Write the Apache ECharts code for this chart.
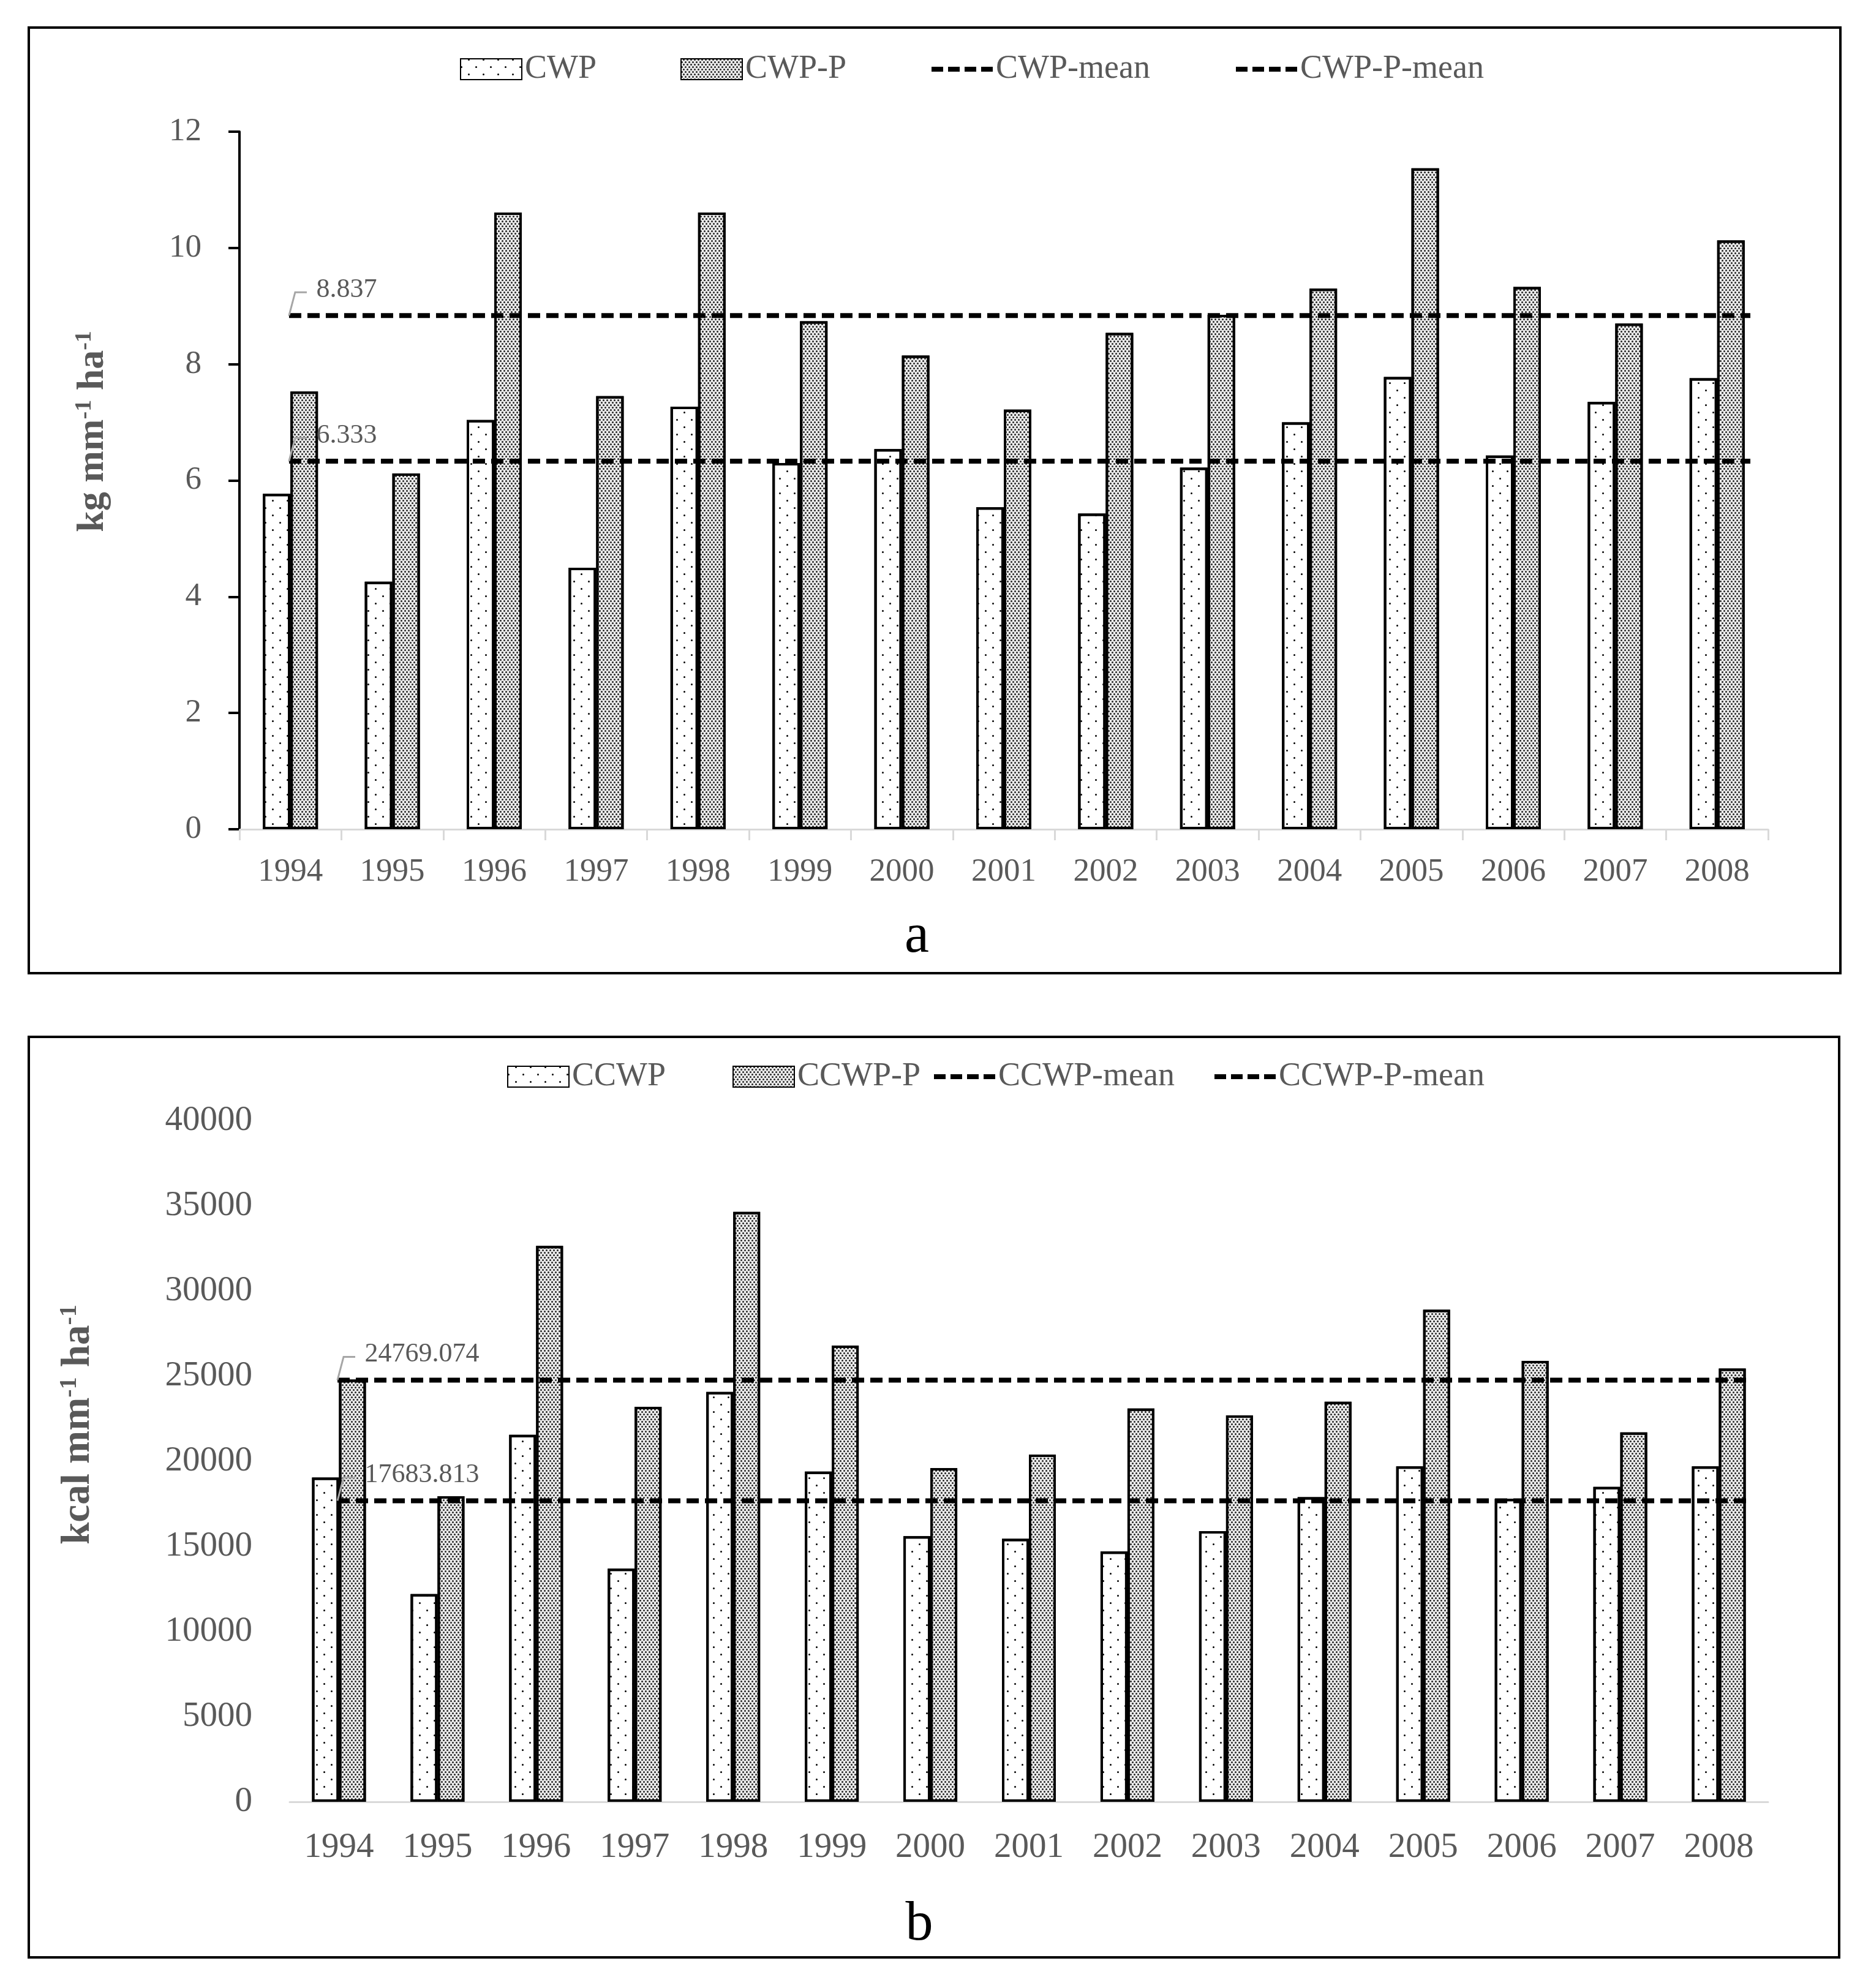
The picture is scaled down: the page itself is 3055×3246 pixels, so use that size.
<!DOCTYPE html>
<html><head><meta charset="utf-8">
<script src="https://cdn.jsdelivr.net/npm/echarts@6/dist/echarts.min.js"></script>
<style>html,body{margin:0;padding:0;background:#fff}#c{width:3055px;height:3246px}</style>
</head><body><div id="c"></div>
<script>
// ---- data ----
const years = ['1994','1995','1996','1997','1998','1999','2000','2001','2002','2003','2004','2005','2006','2007','2008'];
const cwp   = [5.77,4.26,7.04,4.50,7.27,6.30,6.54,5.54,5.43,6.22,7.00,7.78,6.43,7.35,7.76];
const cwpP  = [7.53,6.12,10.61,7.45,10.61,8.74,8.15,7.22,8.54,8.85,9.30,11.37,9.33,8.70,10.13];
const cwpMean  = 6.333;
const cwpPMean = 8.837;
const ccwp  = [19050,12200,21560,13700,24070,19400,15600,15450,14700,15900,17900,19700,17800,18500,19700];
const ccwpP = [24800,17950,32650,23200,34650,26800,19600,20400,23100,22700,23500,28900,25900,21700,25450];
const ccwpMean  = 17683.813;
const ccwpPMean = 24769.074;
const yTicksA = [0,2,4,6,8,10,12];
const yTicksB = [0,5000,10000,15000,20000,25000,30000,35000,40000];
const namesA = ['CWP','CWP-P','CWP-mean','CWP-P-mean'];
const namesB = ['CCWP','CCWP-P','CCWP-mean','CCWP-P-mean'];

// ---- style ----
const FF = "'Liberation Serif','Times New Roman',serif";
const GREY = '#595959';
const decalSparse = {symbol:'circle', symbolSize:1, dashArrayX:[[3,21],[0,12,3,9]], dashArrayY:[3,9], color:'#000'};
const decalDense  = {symbol:'circle', symbolSize:1, dashArrayX:[[3,3],[0,3,3,0]], dashArrayY:[3,1], color:'#222'};
const dashIcon = 'path://M0,0H19V8H0Z M27,0H46V8H27Z M54,0H73V8H54Z M81,0H100V8H81Z';

function barSeries(name, data, gi, dense, bw){
  return {type:'bar', name, data, xAxisIndex:gi, yAxisIndex:gi, barWidth:bw, barGap:'0%',
    itemStyle:{color: dense ? '#ebebeb' : '#ffffff', borderColor:'#000', borderWidth:4, decal: dense ? decalDense : decalSparse},
    emphasis:{disabled:true}, z:2};
}
function meanSeries(name, mean, gi){
  const data = years.map((y,i)=> i===0 ? {value:[i,mean], symbol:'circle', symbolSize:1,
      label:{show:true, position:[45,-41], align:'left', verticalAlign:'middle', fontSize:44, color:GREY, fontFamily:FF, formatter:()=>String(mean)}} : [i,mean]);
  return {type:'line', name, data, xAxisIndex:2+gi, yAxisIndex:gi, symbol:'none', showSymbol:true,
    lineStyle:{color:'#000', width:8, type:[20,10]}, itemStyle:{color:'#000'}, emphasis:{disabled:true}, z:5, animation:false};
}
function legend(name, left, top, isBar){
  return {data:[name], left, top, padding:0, itemWidth:100, itemHeight:isBar?34:8, itemGap:0,
    textStyle:{fontSize:54, color:GREY, fontFamily:FF}, selectedMode:false, icon: isBar ? 'rect' : dashIcon};
}
const plainLabel = v => String(v);

const chart = echarts.init(document.getElementById('c'), null, {renderer:'canvas'});
const option = {
  animation:false,
  backgroundColor:'#fff',
  textStyle:{fontFamily:FF},
  grid:[
    {left:391, right:168, top:215, height:1139, containLabel:false, outerBoundsMode:'none'},
    {left:473, right:168, top:1830, height:1112, containLabel:false, outerBoundsMode:'none'}
  ],
  legend:[
    legend(namesA[0], 751, 86, true), legend(namesA[1], 1111, 86, true),
    legend(namesA[2], 1521, 86, false), legend(namesA[3], 2018, 86, false),
    legend(namesB[0], 828, 1731, true), legend(namesB[1], 1196, 1731, true),
    legend(namesB[2], 1525, 1731, false), legend(namesB[3], 1983, 1731, false)
  ],
  xAxis:[
    {type:'category', gridIndex:0, data:years, boundaryGap:true,
      axisLine:{show:true, onZero:false, lineStyle:{color:'#d9d9d9', width:3}},
      axisTick:{show:true, length:18, lineStyle:{color:'#d9d9d9', width:3}, interval:0},
      axisLabel:{interval:0, margin:44, fontSize:53, color:GREY, fontFamily:FF},
      splitLine:{show:false}},
    {type:'category', gridIndex:1, data:years, boundaryGap:true,
      axisLine:{show:true, onZero:false, lineStyle:{color:'#d9d9d9', width:3}},
      axisTick:{show:false},
      axisLabel:{interval:0, margin:47, fontSize:57, color:GREY, fontFamily:FF},
      splitLine:{show:false}},
    // hidden positional axes for the mean lines (Excel draws them slightly wider than the category centres)
    {type:'value', gridIndex:0, min:-0.475, max:14.17, show:false, axisLine:{onZero:false}},
    {type:'value', gridIndex:1, min:-0.474, max:14.19, show:false, axisLine:{onZero:false}}
  ],
  yAxis:[
    {type:'value', gridIndex:0, position:'left', min:yTicksA[0], max:yTicksA[yTicksA.length-1], interval:yTicksA[1]-yTicksA[0],
      axisLine:{show:true, onZero:false, lineStyle:{color:'#000', width:4}},
      axisTick:{show:true, length:18, lineStyle:{color:'#000', width:4}},
      axisLabel:{margin:62, fontSize:53, color:GREY, fontFamily:FF, formatter:plainLabel},
      splitLine:{show:false},
      name:'{b|kg mm}{s|-1}{b| ha}{s|-1}', nameLocation:'middle', nameRotate:90, nameGap:206,
      nameTextStyle:{padding:[0,0,0,160], rich:{
        b:{fontSize:62, fontWeight:'bold', color:GREY, fontFamily:FF, lineHeight:66},
        s:{fontSize:38, fontWeight:'bold', color:GREY, fontFamily:FF, verticalAlign:'top', lineHeight:66}}}},
    {type:'value', gridIndex:1, position:'left', min:yTicksB[0], max:yTicksB[yTicksB.length-1], interval:yTicksB[1]-yTicksB[0],
      axisLine:{show:false, onZero:false}, axisTick:{show:false},
      axisLabel:{margin:61, fontSize:57, color:GREY, fontFamily:FF, formatter:plainLabel},
      splitLine:{show:false},
      name:'{b|kcal mm}{s|-1}{b| ha}{s|-1}', nameLocation:'middle', nameRotate:90, nameGap:310,
      nameTextStyle:{padding:[0,0,0,120], rich:{
        b:{fontSize:65, fontWeight:'bold', color:GREY, fontFamily:FF, lineHeight:69},
        s:{fontSize:40, fontWeight:'bold', color:GREY, fontFamily:FF, verticalAlign:'top', lineHeight:69}}}}
  ],
  series:[
    barSeries(namesA[0], cwp, 0, false, 45),
    barSeries(namesA[1], cwpP, 0, true, 45),
    meanSeries(namesA[2], cwpMean, 0),
    meanSeries(namesA[3], cwpPMean, 0),
    barSeries(namesB[0], ccwp, 1, false, 44),
    barSeries(namesB[1], ccwpP, 1, true, 44),
    meanSeries(namesB[2], ccwpMean, 1),
    meanSeries(namesB[3], ccwpPMean, 1)
  ],
  graphic:{elements:[
    {id:'frameA', type:'rect', shape:{x:47, y:45, width:2958, height:1544}, style:{fill:null, stroke:'#000', lineWidth:4}, silent:true, z:0},
    {id:'frameB', type:'rect', shape:{x:47, y:1693, width:2956, height:1503}, style:{fill:null, stroke:'#000', lineWidth:4}, silent:true, z:0},
    {id:'labA', type:'text', x:1497, y:1530, style:{text:'a', fontSize:90, fontFamily:FF, fill:'#000', align:'center', verticalAlign:'middle'}, silent:true},
    {id:'labB', type:'text', x:1501, y:3143, style:{text:'b', fontSize:90, fontFamily:FF, fill:'#000', align:'center', verticalAlign:'middle'}, silent:true}
  ]}
};
chart.setOption(option);

// leader lines for the mean labels (anchored through the library's scales)
const leaders = [];
[[0,cwpMean],[0,cwpPMean],[1,ccwpMean],[1,ccwpPMean]].forEach(([g,m],k)=>{
  const p = chart.convertToPixel({xAxisIndex:2+g, yAxisIndex:g}, [0, m]);
  leaders.push({id:'lead'+k, type:'polyline', shape:{points:[[p[0],p[1]],[p[0]+10,p[1]-38],[p[0]+29,p[1]-38]]},
    style:{stroke:'#a6a6a6', lineWidth:3, fill:null}, silent:true, z:10});
});
chart.setOption({graphic:{elements:leaders}});
</script></body></html>
